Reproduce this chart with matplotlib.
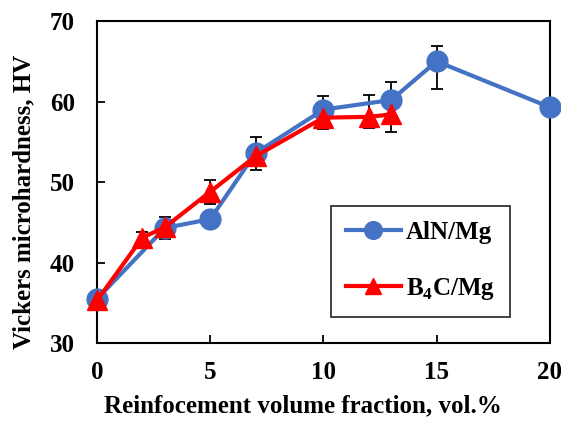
import matplotlib
matplotlib.use("Agg")
import matplotlib.pyplot as plt

plt.rcParams['font.family'] = ['Liberation Serif', 'DejaVu Serif']
plt.rcParams['font.weight'] = 'bold'
plt.rcParams['mathtext.fontset'] = 'custom'
plt.rcParams['mathtext.rm'] = 'Liberation Serif:bold'
plt.rcParams['mathtext.bf'] = 'Liberation Serif:bold'

aln_x = [0, 3, 5, 7, 10, 13, 15, 20]
aln_y = [35.5, 44.3, 45.4, 53.6, 59.0, 60.2, 65.0, 59.3]
aln_err_lo = [0, 1.4, 0, 2.1, 1.7, 2.2, 3.4, 0]
aln_err_hi = [0, 1.4, 0, 2.0, 1.7, 2.2, 1.9, 0]

b4c_x = [0, 2, 3, 5, 7, 10, 12, 13]
b4c_y = [35.3, 43.1, 44.4, 48.8, 53.2, 58.0, 58.1, 58.4]
b4c_err_lo = [0, 0.7, 0, 1.5, 0, 1.4, 1.4, 2.2]
b4c_err_hi = [0, 0.7, 0, 1.5, 0, 1.4, 2.7, 2.2]

xticks = [0, 5, 10, 15, 20]
yticks = [30, 40, 50, 60, 70]

fig = plt.figure(figsize=(5.61, 4.21), dpi=100)
ax = fig.add_axes([0.173, 0.185, 0.807, 0.765])

ax.errorbar(aln_x, aln_y, yerr=[aln_err_lo, aln_err_hi], fmt='none', ecolor='black',
            elinewidth=1.3, capsize=4.5, capthick=1.3, zorder=2)
ax.errorbar(b4c_x, b4c_y, yerr=[b4c_err_lo, b4c_err_hi], fmt='none', ecolor='black',
            elinewidth=1.3, capsize=4.5, capthick=1.3, zorder=2)
ax.plot(aln_x, aln_y, color='#4472C4', lw=3, marker='o', markersize=15,
        label='AlN/Mg', zorder=3, clip_on=False)
ax.plot(b4c_x, b4c_y, color='#FF0000', lw=3, marker='^', markersize=14,
        label=r'B$_{4}$C/Mg', zorder=4, clip_on=False)

ax.set_xlim(0, 20)
ax.set_ylim(30, 70)
ax.set_xticks(xticks)
ax.set_yticks(yticks)
ax.tick_params(axis='x', direction='in', length=6, width=1.3, labelsize=18, pad=13)
ax.tick_params(axis='y', direction='in', length=6, width=1.3, labelsize=18, pad=16)
for s in ax.spines.values():
    s.set_linewidth(1.5)

ax.set_xlabel('Reinfocement volume fraction, vol.%', fontsize=18, fontweight='bold')
ax.set_ylabel('Vickers microhardness, HV', fontsize=18, fontweight='bold')
ax.xaxis.set_label_coords(0.455, -0.16)
ax.yaxis.set_label_coords(-0.137, 0.44)

leg = ax.legend(loc='lower right', bbox_to_anchor=(0.912, 0.081), borderaxespad=0,
                fontsize=18, frameon=True, fancybox=False, edgecolor='black',
                labelspacing=1.3, handlelength=2.2, borderpad=0.6, handletextpad=0.2,
                markerscale=0.85)
leg.get_frame().set_linewidth(1.3)

fig.savefig('out.png', dpi=100)
